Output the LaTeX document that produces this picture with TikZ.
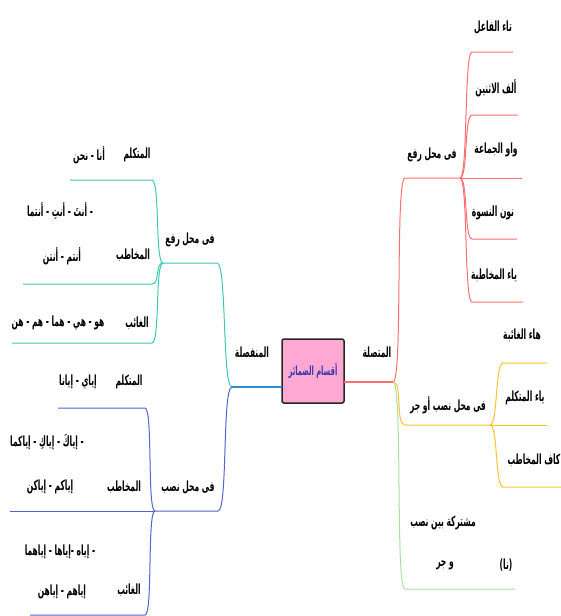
\documentclass[tikz,border=0pt]{standalone}
\usepackage{fontspec}
\newfontfamily\arabicfont[Script=Arabic,FakeStretch=0.54]{DejaVu Sans}
\TeXXeTstate=1
\newcommand{\artext}[1]{{\arabicfont\bfseries\beginR #1\endR}}

\definecolor{redbr}{RGB}{255,110,110}
\definecolor{yellowbr}{RGB}{255,193,40}
\definecolor{greenbr}{RGB}{165,225,160}
\definecolor{tealbr}{RGB}{60,200,180}
\definecolor{bluebr}{RGB}{85,100,200}
\definecolor{bluemain}{RGB}{40,140,215}
\definecolor{rootpink}{RGB}{255,168,212}
\definecolor{roottext}{RGB}{55,55,170}

\begin{document}
\begin{tikzpicture}[
    x=1pt, y=-1pt,
    lbl/.style={inner sep=0pt, font=\fontsize{14}{16}\selectfont},
    root/.style={draw=black!85, line width=1.5pt, rounded corners=2pt, fill=rootpink,
        minimum width=62pt, minimum height=64pt, inner sep=0pt, font=\fontsize{12.5}{15}\selectfont},
    elbow/.style={to path={.. controls +(#1,0) and +(-#1,0) .. (\tikztotarget)}},
    elbowl/.style={to path={.. controls +(-#1,0) and +(#1,0) .. (\tikztotarget)}},
    redline/.style={draw=redbr, line width=1pt},
    yellowline/.style={draw=yellowbr, line width=1pt},
    greenline/.style={draw=greenbr, line width=1pt},
    tealline/.style={draw=tealbr, line width=1pt},
    blueline/.style={draw=bluebr, line width=1pt}
]
\useasboundingbox (0,0) rectangle (560,616);

% Root
\node[root] (root) at (313,371) {\textcolor{roottext}{\artext{أقسام الضمائر}}};
\coordinate (rootR) at (344,382);
\coordinate (rootL) at (282,387);

% Right: connected pronouns
\coordinate (hubR) at (393,382);
\draw[redbr, line width=2pt] (rootR) -- (hubR);
\node[lbl] (conn) at (377,352) {\artext{المتصلة}};

% in the nominative
\coordinate (cA) at (405,178);
\coordinate (hubA) at (460,178);
\draw[redline] (hubR) to[elbow=10] (cA) -- (hubA);
\node[lbl] (tA) at (432,155) {\artext{فى محل رفع}};

\coordinate (ca1) at (472,52);  \coordinate (ea1) at (513,52);
\coordinate (ca2) at (472,115); \coordinate (ea2) at (518,115);
\coordinate (ea3) at (522,178);
\coordinate (ca4) at (472,239); \coordinate (ea4) at (517,239);
\coordinate (ca5) at (472,302); \coordinate (ea5) at (523,302);
\draw[redline] (hubA) to[elbow=8] (ca1) -- (ea1);
\draw[redline] (hubA) to[elbow=8] (ca2) -- (ea2);
\draw[redline] (hubA) -- (ea3);
\draw[redline] (hubA) to[elbow=8] (ca4) -- (ea4);
\draw[redline] (hubA) to[elbow=8] (ca5) -- (ea5);
\node[lbl] (a1) at (493,27) {\artext{تاء الفاعل}};
\node[lbl] (a2) at (496,88) {\artext{ألف الاثنين}};
\node[lbl] (a3) at (496,150) {\artext{واو الجماعة}};
\node[lbl] (a4) at (493,213) {\artext{نون النسوة}};
\node[lbl] (a5) at (494,275) {\artext{ياء المخاطبة}};

% in the accusative or genitive
\coordinate (cB) at (405,425);
\coordinate (hubB) at (490,425);
\draw[yellowline] (hubR) to[elbow=10] (cB) -- (hubB);
\node[lbl] (tB) at (448,405) {\artext{فى محل نصب أو جر}};

\coordinate (cb1) at (503,363); \coordinate (eb1) at (547,363);
\coordinate (eb2) at (547,425);
\coordinate (cb3) at (503,487); \coordinate (eb3) at (562,487);
\draw[yellowline] (hubB) to[elbow=8] (cb1) -- (eb1);
\draw[yellowline] (hubB) -- (eb2);
\draw[yellowline] (hubB) to[elbow=8] (cb3) -- (eb3);
\node[lbl] (b1) at (522,335) {\artext{هاء الغائبة}};
\node[lbl] (b2) at (525,398) {\artext{ياء المتكلم}};
\node[lbl] (b3) at (534,460) {\artext{كاف المخاطب}};

% shared
\coordinate (cC) at (405,589);
\coordinate (eC) at (515,589);
\draw[greenline] (hubR) to[elbow=10] (cC) -- (eC);
\node[lbl] (tC1) at (443,523) {\artext{مشتركة بين نصب}};
\node[lbl] (tC2) at (445,565) {\artext{و جر}};
\node[lbl] (tC3) at (506,565) {\artext{(نا)}};

% Left: separate pronouns
\coordinate (hubL) at (232,387);
\draw[bluemain, line width=2pt] (rootL) -- (hubL);
\node[lbl] (sep) at (252,352) {\artext{المنفصلة}};

% in the nominative
\coordinate (cD) at (217,263);
\coordinate (hubD) at (163,263);
\draw[tealline] (hubL) to[elbowl=10] (cD) -- (hubD);
\node[lbl] (tD) at (190,240) {\artext{فى محل رفع}};

\coordinate (cd1) at (152,180); \coordinate (ed1) at (70,180);
\coordinate (cd2) at (152,284); \coordinate (ed2) at (23,284);
\coordinate (cd3) at (152,343); \coordinate (ed3) at (12,343);
\draw[tealline] (hubD) to[elbowl=8] (cd1) -- (ed1);
\draw[tealline] (hubD) to[elbowl=8] (cd2) -- (ed2);
\draw[tealline] (hubD) to[elbowl=8] (cd3) -- (ed3);
\node[lbl] (d1a) at (137,155) {\artext{المتكلم}};
\node[lbl] (d1b) at (89,155) {\artext{أنا - نحن}};
\node[lbl] (d2a) at (60,211) {\artext{- أنتَ - أنتِ - أنتما}};
\node[lbl] (d2b) at (133,255) {\artext{المخاطب}};
\node[lbl] (d2c) at (62,256) {\artext{أنتم - أنتن}};
\node[lbl] (d3a) at (137,323) {\artext{الغائب}};
\node[lbl] (d3b) at (58,323) {\artext{هو - هي - هما - هم - هن}};

% in the accusative
\coordinate (cE) at (218,511);
\coordinate (hubE) at (155,511);
\draw[blueline] (hubL) to[elbowl=10] (cE) -- (hubE);
\node[lbl] (tE) at (188,487) {\artext{فى محل نصب}};

\coordinate (ce1) at (145,408); \coordinate (ee1) at (58,408);
\coordinate (ee2) at (10,511);
\coordinate (ce3) at (145,615); \coordinate (ee3) at (30,615);
\draw[blueline] (hubE) to[elbowl=8] (ce1) -- (ee1);
\draw[blueline] (hubE) -- (ee2);
\draw[blueline] (hubE) to[elbowl=8] (ce3) -- (ee3);
\node[lbl] (e1a) at (129,382) {\artext{المتكلم}};
\node[lbl] (e1b) at (78,382) {\artext{إياي - إيانا}};
\node[lbl] (e2a) at (47,442) {\artext{- إياكَ - إياكِ - إياكما}};
\node[lbl] (e2b) at (124,487) {\artext{المخاطب}};
\node[lbl] (e2c) at (50,487) {\artext{إياكم - إياكن}};
\node[lbl] (e3a) at (60,552) {\artext{- إياه -إياها - إياهما}};
\node[lbl] (e3b) at (129,590) {\artext{الغائب}};
\node[lbl] (e3c) at (62,592) {\artext{إياهم - إياهن}};

\end{tikzpicture}
\end{document}
